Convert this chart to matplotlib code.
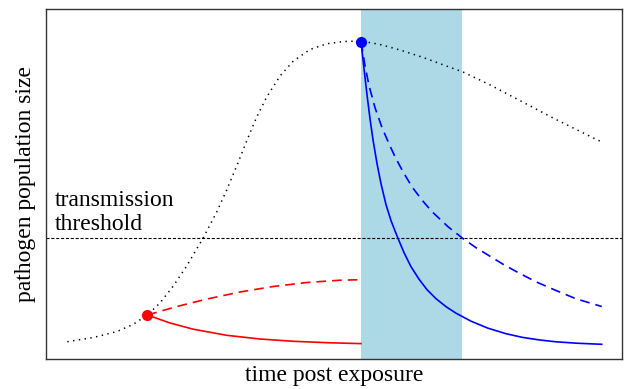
import matplotlib
matplotlib.use('Agg')
import matplotlib.pyplot as plt

# untreated course of infection (arbitrary units)
t_untreated = [3.70, 8.21, 12.33, 15.10, 17.59, 19.79, 22.10, 24.43, 27.31, 29.64, 31.37,
               33.11, 34.84, 36.58, 38.32, 40.63, 42.94, 45.83, 48.73, 51.61, 54.69,
               57.99, 61.46, 65.23, 69.27, 72.40, 76.79, 82.59, 88.37, 96.30]
n_untreated = [4.94, 6.14, 7.86, 9.86, 12.57, 16.0, 20.86, 26.57, 34.66, 42.0, 48.29,
               55.14, 62.29, 69.14, 74.86, 80.86, 85.14, 88.43, 90.06, 90.71, 90.86,
               89.86, 88.29, 86.29, 83.86, 82.0, 78.57, 73.57, 68.57, 62.14]

# early treatment
t_early_solid = [17.59, 21.53, 25.57, 31.37, 37.15, 42.93, 49.31, 54.69]
n_early_solid = [12.57, 10.29, 8.51, 6.77, 5.71, 5.06, 4.63, 4.40]
t_early_dash = [17.59, 22.74, 27.95, 33.68, 39.41, 45.31, 51.04, 54.69]
n_early_dash = [12.57, 15.0, 17.14, 19.14, 20.71, 21.86, 22.51, 22.66]

# late treatment
t_late_solid = [54.69, 55.21, 55.73, 56.25, 56.77, 57.47, 58.16, 59.03, 59.90, 61.06,
                62.16, 63.37, 64.76, 66.15, 67.71, 69.45, 71.18, 73.79, 76.74, 79.86,
                82.64, 85.59, 88.37, 92.02, 96.48]
n_late_solid = [90.66, 82.95, 75.52, 68.66, 62.66, 55.80, 50.09, 44.09, 39.52, 34.66,
                30.37, 26.37, 22.80, 19.80, 17.23, 14.95, 13.09, 10.80, 8.80, 7.23,
                6.20, 5.46, 4.94, 4.52, 4.20]
t_late_dash = [54.69, 55.38, 56.08, 57.12, 58.34, 59.55, 60.59, 61.98, 63.54, 65.28,
               67.02, 69.79, 72.40, 74.66, 76.74, 79.52, 82.64, 85.42, 88.37, 92.02, 96.48]
n_late_dash = [90.66, 83.8, 78.1, 71.8, 66.1, 61.5, 57.8, 53.5, 49.2, 45.4,
               42.1, 37.8, 34.4, 31.8, 29.7, 26.9, 24.1, 21.8, 19.7, 17.2, 15.0]

threshold = 34.7
treat_window = (54.69, 72.3)

plt.rcParams['font.family'] = ['Liberation Serif', 'DejaVu Serif']
plt.rcParams['lines.scale_dashes'] = False

fig = plt.figure(figsize=(6.26, 3.89), dpi=100)
ax = fig.add_axes([46/626, 30/389, 576/626, 350/389])
ax.set_xlim(0, 100)
ax.set_ylim(0, 100)

ax.axvspan(treat_window[0], treat_window[1], color='#add8e6', lw=0, zorder=0)
ax.axhline(threshold, color='black', lw=0.8, dashes=(2.2, 1.3), zorder=2)

ax.plot(t_untreated, n_untreated, color='black', lw=1.1, dashes=(1, 3.2), zorder=3)

ax.plot(t_early_solid, n_early_solid, color='red', lw=1.2, zorder=3)
ax.plot(t_early_dash, n_early_dash, color='red', lw=1.2, dashes=(7, 4.3), zorder=3)
ax.plot(t_early_solid[0], n_early_solid[0], 'o', color='red', ms=7, zorder=4)

ax.plot(t_late_solid, n_late_solid, color='blue', lw=1.2, zorder=3)
ax.plot(t_late_dash, n_late_dash, color='blue', lw=1.2, dashes=(7, 4.3), zorder=3)
ax.plot(t_late_solid[0], n_late_solid[0], 'o', color='blue', ms=7, zorder=4)

ax.text(1.6, 36.9, 'transmission\nthreshold', fontsize=17, va='baseline', ha='left',
        linespacing=1.15)

ax.set_xticks([])
ax.set_yticks([])
for s in ax.spines.values():
    s.set_color('#333333')
    s.set_linewidth(1.0)
ax.set_xlabel('time post exposure', fontsize=17, labelpad=4)
ax.set_ylabel('pathogen population size', fontsize=17, labelpad=7)

fig.savefig('out.png', dpi=100)
